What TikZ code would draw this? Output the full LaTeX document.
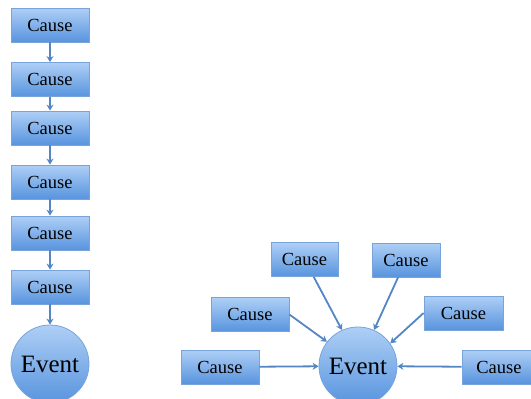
\documentclass[tikz,border=0pt]{standalone}
\usepackage{fontspec}
\setmainfont{Liberation Serif}
\usetikzlibrary{arrows.meta}

\definecolor{boxtop}{RGB}{174,207,246}
\definecolor{boxbot}{RGB}{88,148,222}
\definecolor{boxline}{RGB}{120,164,218}
\definecolor{arrowblue}{RGB}{84,134,196}

\begin{document}
\begin{tikzpicture}[x=1pt, y=-1pt,
    cause/.style={draw=boxline, line width=0.8pt, top color=boxtop, bottom color=boxbot,
        minimum width=78pt, minimum height=34pt, inner sep=0pt,
        font=\fontsize{18.5}{20}\selectfont},
    event/.style={circle, draw=boxline, line width=0.8pt, top color=boxtop, bottom color=boxbot,
        minimum size=78pt, inner sep=0pt, font=\fontsize{25}{28}\selectfont},
    link/.style={draw=arrowblue, line width=1.8pt, -{Stealth[length=6pt, width=7pt]}}]
    \useasboundingbox (0,0) rectangle (531,399);

    \node[cause] (c1) at (50,25) {Cause};
    \node[cause] (c2) at (50,79.5) {Cause};
    \node[cause] (c3) at (50,128) {Cause};
    \node[cause] (c4) at (50,182) {Cause};
    \node[cause] (c5) at (50,233) {Cause};
    \node[cause] (c6) at (50,287) {Cause};
    \node[event] (ev1) at (50,364) {Event};

    \draw[link] (c1) -- (c2);
    \draw[link] (c2) -- (c3);
    \draw[link] (c3) -- (c4);
    \draw[link] (c4) -- (c5);
    \draw[link] (c5) -- (c6);
    \draw[link] (c6) -- (ev1);

    \node[event] (ev2) at (358,366) {Event};
    \node[cause, minimum width=67pt] (tl) at (304.5,259.5) {Cause};
    \node[cause, minimum width=68pt] (tr) at (406,260) {Cause};
    \node[cause] (ml) at (250,314.5) {Cause};
    \node[cause, minimum width=79pt] (mr) at (463.5,313) {Cause};
    \node[cause] (bl) at (220,367) {Cause};
    \node[cause, minimum width=74pt] (br) at (499,367) {Cause};

    \draw[link] (tl) -- (ev2.114);
    \draw[link] (tr) -- (ev2.66);
    \draw[link] (ml.east) -- (ev2.142);
    \draw[link] (mr.west) -- (ev2.35);
    \draw[link] (bl) -- (ev2);
    \draw[link] (br) -- (ev2);
\end{tikzpicture}
\end{document}
